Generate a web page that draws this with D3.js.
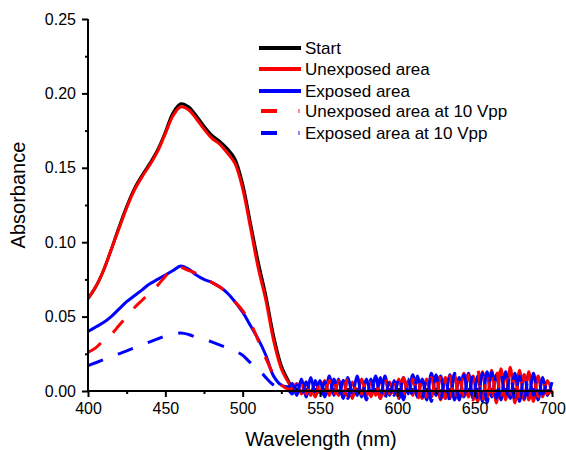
<!DOCTYPE html>
<html>
<head>
<meta charset="utf-8">
<script src="https://cdn.jsdelivr.net/npm/d3@7/dist/d3.min.js"></script>
<style>
  html, body { margin: 0; padding: 0; background: #fff; }
  svg { display: block; }
  text { font-family: "Liberation Sans", Arial, sans-serif; fill: #000; }
</style>
</head>
<body>
<svg id="chart" width="566" height="450"></svg>
<script>
// ---------- data ----------
// main band: 400..530 nm every 5 nm
const wlMain = [400,405,410,415,420,425,430,435,440,445,450,455,460,465,470,475,480,485,490,495,500,505,510,515,520,525,530];
// tail: 532..700 nm every 3 nm
const wlTail = [532,535,538,541,544,547,550,553,556,559,562,565,568,571,574,577,580,583,586,589,592,595,598,601,604,607,610,613,616,619,622,625,628,631,634,637,640,643,646,649,652,655,658,661,664,667,670,673,676,679,682,685,688,691,694,697,700];

const startMain = [0.062,0.070,0.081,0.095,0.110,0.124,0.136,0.145,0.153,0.162,0.174,0.187,0.193,0.191,0.185,0.178,0.172,0.168,0.163,0.156,0.139,0.113,0.087,0.064,0.037,0.017,0.006];
const startTail = [0.002,0.001,0.000,0.001,0.000,0.001,-0.001,0.001,0.000,0.001,
  0.000,-0.001,0.001,0.000,0.001,0.000,-0.001,0.000,0.001,0.000,
  -0.001,0.001,0.000,0.001,-0.001,0.000,0.001,0.000,-0.001,0.001,
  0.000,0.001,0.000,-0.001,0.001,0.000,0.000,-0.001,0.001,0.000,
  0.001,-0.001,0.000,0.001,0.000,-0.001,0.001,0.000,0.001,0.000,
  -0.001,0.000,0.001,0.000,-0.001,0.000,0.001];

const unexpMain = [0.062,0.070,0.081,0.095,0.109,0.123,0.135,0.144,0.152,0.161,0.173,0.185,0.191,0.189,0.183,0.176,0.170,0.166,0.160,0.153,0.136,0.110,0.083,0.061,0.034,0.015,0.005];
const unexpTail = [0.002,0.005,-0.002,0.006,-0.003,0.006,-0.001,0.007,-0.003,0.006,
  -0.003,0.007,-0.004,0.006,-0.002,0.008,-0.004,0.007,-0.003,0.008,
  -0.003,0.006,-0.002,0.008,-0.004,0.007,-0.003,0.009,-0.005,0.008,
  -0.004,0.010,-0.006,0.009,-0.005,0.011,-0.006,0.012,-0.004,0.010,
  -0.007,0.013,-0.005,0.014,-0.008,0.015,-0.006,0.016,-0.008,0.014,
  -0.006,0.013,-0.007,0.010,-0.004,0.007,-0.002];

const expMain = [0.040,0.043,0.046,0.050,0.055,0.060,0.064,0.068,0.072,0.075,0.078,0.081,0.084,0.082,0.078,0.075,0.073,0.070,0.066,0.060,0.053,0.044,0.035,0.024,0.010,0.004,0.003];
const expTail = [0.005,-0.003,0.008,-0.004,0.009,-0.002,0.007,-0.004,0.010,-0.003,
  0.008,-0.005,0.009,-0.002,0.010,-0.004,0.008,-0.003,0.010,-0.005,
  0.010,-0.003,0.007,-0.005,0.009,-0.002,0.011,-0.004,0.008,-0.006,
  0.012,-0.003,0.010,-0.005,0.011,-0.006,0.009,-0.004,0.012,-0.005,
  0.010,-0.007,0.013,-0.004,0.011,-0.006,0.013,-0.005,0.012,-0.007,
  0.011,-0.004,0.012,-0.006,0.009,-0.003,0.006];

const unexpVppMain = [0.026,0.029,0.034,0.038,0.044,0.050,0.056,0.061,0.066,0.071,0.077,0.082,0.083,0.081,0.079,0.076,0.073,0.070,0.066,0.060,0.054,0.046,0.034,0.022,0.011,0.004,0.001];
const unexpVppTail = [0.001,-0.003,0.004,-0.002,0.005,-0.004,0.006,-0.001,0.007,-0.004,
  0.007,-0.003,0.008,-0.005,0.007,-0.002,0.008,-0.004,0.007,-0.005,
  0.008,-0.002,0.007,-0.005,0.009,-0.003,0.008,-0.006,0.010,-0.004,
  0.009,-0.006,0.011,-0.005,0.010,-0.007,0.012,-0.004,0.011,-0.006,
  0.014,-0.007,0.012,-0.008,0.015,-0.006,0.013,-0.008,0.012,-0.005,
  0.011,-0.006,0.009,-0.004,0.006,-0.002,0.003];

const expVppMain = [0.017,0.019,0.021,0.023,0.025,0.027,0.029,0.031,0.033,0.035,0.037,0.038,0.039,0.038,0.036,0.035,0.033,0.031,0.029,0.027,0.024,0.019,0.015,0.009,0.004,0.001,0.000];
const expVppTail = [-0.002,0.004,-0.004,0.006,-0.003,0.007,-0.005,0.006,-0.002,0.008,
  -0.004,0.007,-0.005,0.008,-0.003,0.008,-0.006,0.008,-0.004,0.009,
  -0.005,0.007,-0.003,0.009,-0.006,0.008,-0.004,0.010,-0.005,0.009,
  -0.007,0.011,-0.005,0.010,-0.007,0.012,-0.006,0.011,-0.004,0.013,
  -0.006,0.012,-0.008,0.013,-0.005,0.011,-0.007,0.012,-0.006,0.010,
  -0.005,0.009,-0.003,0.007,-0.002,0.005,0.000];

const seriesNames = ["Start","Unexposed area","Exposed area","Unexposed area at 10 Vpp","Exposed area at 10 Vpp"];
const xTicks = [400,450,500,550,600,650,700];
const yTicks = [0.00,0.05,0.10,0.15,0.20,0.25];
const xLabel = "Wavelength (nm)";
const yLabel = "Absorbance";

// ---------- build ----------
const wl = wlMain.concat(wlTail);
const series = [
  {name: seriesNames[0], vals: startMain.concat(startTail), color: "#000000", dash: null},
  {name: seriesNames[1], vals: unexpMain.concat(unexpTail), color: "#ff0000", dash: null},
  {name: seriesNames[2], vals: expMain.concat(expTail), color: "#0000ff", dash: null},
  {name: seriesNames[3], vals: unexpVppMain.concat(unexpVppTail), color: "#ff0000", dash: "16,16"},
  {name: seriesNames[4], vals: expVppMain.concat(expVppTail), color: "#0000ff", dash: "16,16"}
];

const svg = d3.select("#chart");
const x = d3.scaleLinear().domain([400, 700]).range([88, 552]);
const y = d3.scaleLinear().domain([0, 0.25]).range([391, 19]);

const line = d3.line().x((d, i) => x(wl[i])).y(d => y(d)).curve(d3.curveCatmullRom.alpha(0.5));

svg.append("g").selectAll("path").data(series).enter().append("path")
  .attr("d", d => line(d.vals))
  .attr("fill", "none")
  .attr("stroke", d => d.color)
  .attr("stroke-width", 3)
  .attr("stroke-linejoin", "round")
  .attr("stroke-dasharray", d => d.dash);

// axes
const xMinor = d3.range(425, 700, 50);
const yMinor = [0.025,0.075,0.125,0.175,0.225];

const xAxisG = svg.append("g").attr("transform", "translate(0,391)");
xAxisG.call(d3.axisBottom(x).tickValues(xTicks).tickSize(6).tickPadding(6).tickFormat(d3.format("d")));
xAxisG.append("g").call(d3.axisBottom(x).tickValues(xMinor).tickSize(3).tickFormat(""))
  .select(".domain").remove();

const yAxisG = svg.append("g").attr("transform", "translate(88,0)");
yAxisG.call(d3.axisLeft(y).tickValues(yTicks).tickSize(6).tickPadding(6).tickFormat(d3.format(".2f")));
yAxisG.append("g").call(d3.axisLeft(y).tickValues(yMinor).tickSize(3).tickFormat(""))
  .select(".domain").remove();

svg.selectAll(".domain").attr("stroke", "#000").attr("stroke-width", 2);
svg.selectAll(".tick line").attr("stroke", "#000").attr("stroke-width", 2);
svg.selectAll(".tick text").attr("font-size", 16).attr("font-family", "Liberation Sans, Arial, sans-serif").attr("fill", "#000");
xAxisG.select(".domain").attr("d", `M${x(400)},0H${x(700)}`);
yAxisG.select(".domain").attr("d", `M0,${y(0)}V${y(0.25)}`);

// axis titles
svg.append("text").attr("x", 321).attr("y", 446).attr("text-anchor", "middle")
  .attr("font-size", 20).text(xLabel);
svg.append("text").attr("transform", "translate(25,195) rotate(-90)").attr("text-anchor", "middle")
  .attr("font-size", 20).text(yLabel);

// legend
const legY = [48, 69, 91, 111, 133];
const leg = svg.append("g");
series.forEach((s, i) => {
  const g = leg.append("g").attr("transform", `translate(0,${legY[i]})`);
  if (s.dash) {
    g.append("line").attr("x1", 261).attr("x2", 277).attr("y1", 0).attr("y2", 0)
      .attr("stroke", s.color).attr("stroke-width", 4);
    g.append("line").attr("x1", 298).attr("x2", 300).attr("y1", 0).attr("y2", 0)
      .attr("stroke", s.color).attr("stroke-width", 4).attr("opacity", 0.45);
  } else {
    g.append("line").attr("x1", 259).attr("x2", 301).attr("y1", 0).attr("y2", 0)
      .attr("stroke", s.color).attr("stroke-width", 4);
  }
  g.append("text").attr("x", 305).attr("y", 0).attr("dy", "0.35em")
    .attr("font-size", 17).text(s.name);
});
</script>
</body>
</html>
